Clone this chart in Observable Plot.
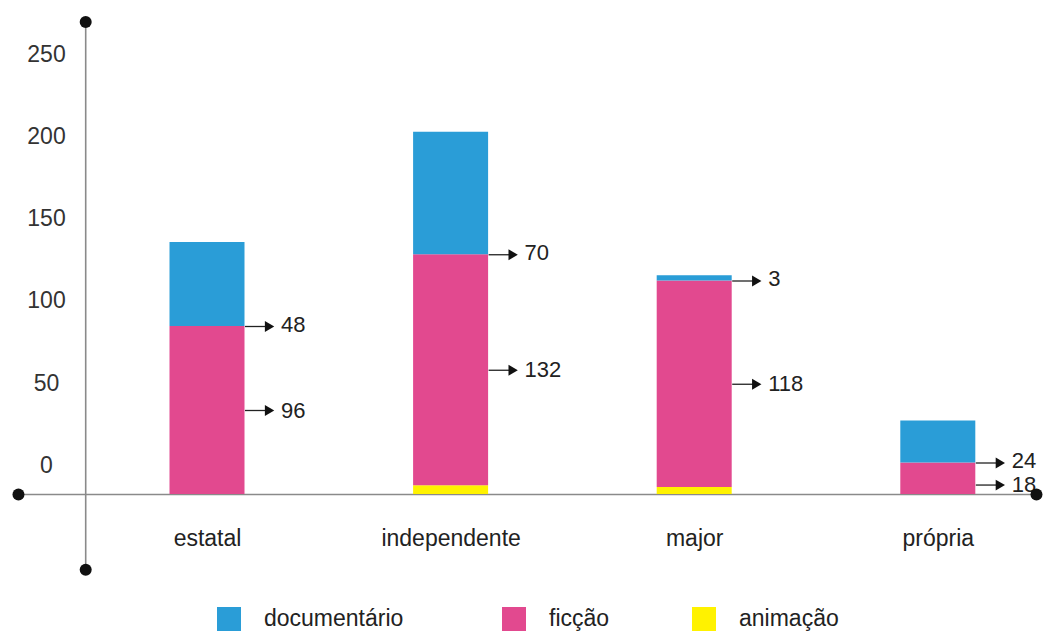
<!DOCTYPE html>
<html>
<head>
<meta charset="utf-8">
<script src="https://cdn.jsdelivr.net/npm/d3@7"></script>
<script src="https://cdn.jsdelivr.net/npm/@observablehq/plot@0.6"></script>
<style>
  body { margin: 0; background: #fff; font-family: "Liberation Sans", Arial, sans-serif; }
  #chart { position: relative; width: 1043px; height: 600px; }
  #chart svg { position: absolute; left: 0; top: 0; background: transparent; }
  #legend { position: relative; width: 1043px; height: 36px; font-size: 23px; color: #222; }
  .item { position: absolute; top: 5px; display: flex; align-items: center; }
  .sw { width: 24px; height: 24px; margin-right: 23px; }
</style>
</head>
<body>
<div id="chart"></div>
<div id="legend"></div>
<script>
// Filmes por tipo de produtora
const categorias = ["estatal", "independente", "major", "própria"];
const series = ["documentário", "ficção", "animação"];
const documentario = [48, 70, 3, 24];
const ficcao = [96, 132, 118, 18];
const animacao = [0, 5, 4, 0];
const yTicks = [0, 50, 100, 150, 200, 250];
const cores = ["#2a9dd7", "#e2498f", "#fff200"];

// Layout constants (pixels per category step, first category centre, bar half-width, axis extents)
const W = 1043, H = 600;
const passo = 243.6, x0 = 207;
const px = p => p / passo;
const meia = px(37.5);
const eixo = {xIni: -0.776, xFim: 3.403, yIni: -43, yFim: 270, xV: -0.5};

const linhas = categorias.flatMap((c, i) => [
  {i, categoria: c, serie: "animação", valor: animacao[i]},
  {i, categoria: c, serie: "ficção", valor: ficcao[i]},
  {i, categoria: c, serie: "documentário", valor: documentario[i]}
]);

// Value callouts: documentário at the top of ficção, ficção inside its segment
// (short segments get the callout near their base to keep clear of the one above)
const rotulos = categorias.flatMap((c, i) => [
  {i, y: animacao[i] + ficcao[i], valor: documentario[i], dy: -2},
  {i, y: animacao[i] + (ficcao[i] < 30 ? ficcao[i] * 0.3 : ficcao[i] / 2), valor: ficcao[i], dy: 0}
]);

const pontas = [
  {x: eixo.xV, y: eixo.yIni}, {x: eixo.xV, y: eixo.yFim},
  {x: eixo.xIni, y: 0}, {x: eixo.xFim, y: 0}
];

const fonte = {fontSize: "23px", fontFamily: "'Liberation Sans', Arial, sans-serif", background: "transparent", color: "#222"};

const grafico = Plot.plot({
  width: W, height: H,
  marginLeft: 0, marginRight: 0, marginTop: 0, marginBottom: 106,
  style: fonte,
  x: {domain: [-x0 / passo, (W - x0) / passo], axis: null},
  y: {domain: [0, 494 / 1.75], axis: null},
  color: {domain: series, range: cores},
  marks: [
    Plot.ruleY([0], {x1: eixo.xIni, x2: eixo.xFim, stroke: "#8a8a8a", strokeWidth: 1.6}),
    Plot.ruleX([eixo.xV], {y1: eixo.yIni, y2: eixo.yFim, stroke: "#8a8a8a", strokeWidth: 1.6}),
    Plot.rectY(linhas, Plot.stackY({
      x1: d => d.i - meia, x2: d => d.i + meia,
      y: "valor", fill: "serie",
      order: ["animação", "ficção", "documentário"]
    })),
    Plot.link(rotulos, {
      x1: d => d.i + meia, x2: d => d.i + meia + px(26),
      y1: "y", y2: "y", stroke: "#222", strokeWidth: 1.3
    }),
    Plot.dot(rotulos, {
      x: d => d.i + meia, y: "y", dx: 23,
      symbol: "triangle", rotate: 90, r: 4, fill: "#111", stroke: null
    }),
    ...rotulos.map(r => Plot.text([r], {
      x: d => d.i + meia, y: "y", dx: 36, dy: r.dy,
      text: d => String(d.valor), textAnchor: "start", fill: "#222", fontSize: 22
    })),
    Plot.text(categorias, {
      x: (d, i) => i, frameAnchor: "bottom", dy: 51,
      text: d => d, fill: "#222"
    }),
    Plot.dot(pontas, {x: "x", y: "y", r: 6, fill: "#111", stroke: null})
  ]
});

// Value scale labels
const escala = Plot.plot({
  width: W, height: H,
  marginLeft: 46, marginRight: 0, marginTop: 54, marginBottom: 135,
  style: fonte,
  y: {domain: [0, 250]},
  marks: [
    Plot.axisY(yTicks, {tickSize: 0, tickPadding: 0, textAnchor: "middle", fill: "#333", label: null})
  ]
});

const chart = document.getElementById("chart");
chart.append(grafico, escala);

// Legend
const legenda = document.getElementById("legend");
const posicoes = [217, 502, 692];
series.forEach((s, k) => {
  const item = document.createElement("div");
  item.className = "item";
  item.style.left = posicoes[k] + "px";
  const sw = document.createElement("span");
  sw.className = "sw";
  sw.style.background = cores[k];
  const t = document.createElement("span");
  t.textContent = s;
  item.append(sw, t);
  legenda.append(item);
});
</script>
</body>
</html>
